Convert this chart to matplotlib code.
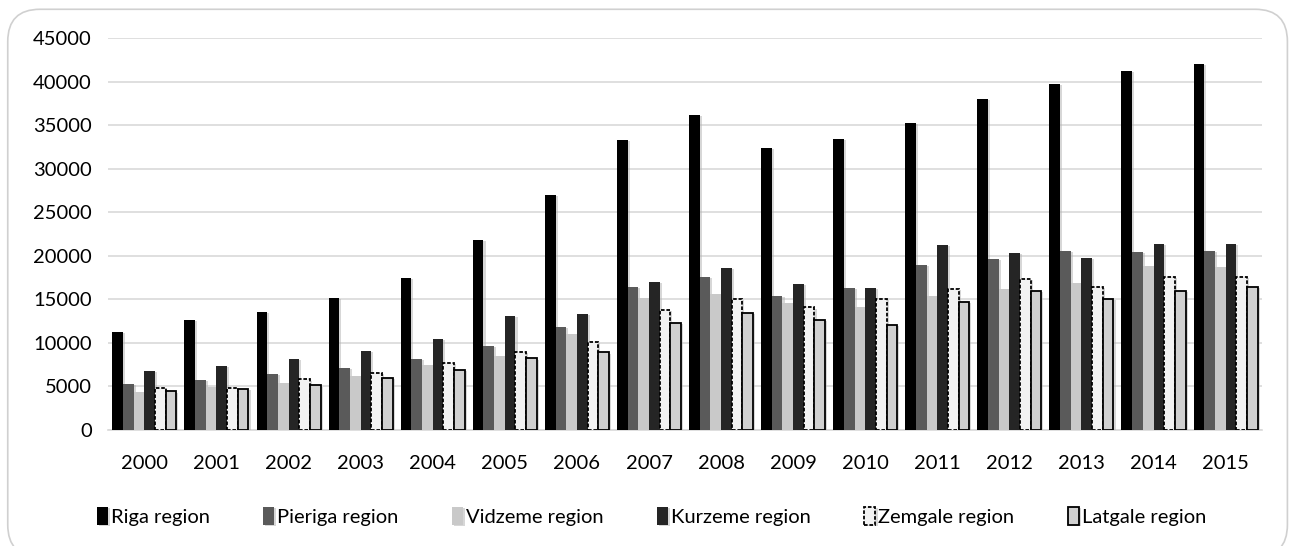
import numpy as np
import matplotlib.pyplot as plt
from matplotlib.patches import FancyBboxPatch
import matplotlib.patheffects as pe

years = [str(y) for y in range(2000, 2016)]

riga = [11250, 12630, 13550, 15150, 17450, 21810, 26980, 33290,
        36160, 32380, 33410, 35250, 38000, 39720, 41220, 42020]
pieriga = [5280, 5740, 6430, 7120, 8150, 9640, 11830, 16420,
           17570, 15380, 16300, 18940, 19630, 20550, 20440, 20550]
vidzeme = [4400, 4980, 5400, 6200, 7460, 8500, 11020, 15150,
           15610, 14580, 14120, 15380, 16190, 16880, 18830, 18750]
kurzeme = [6810, 7350, 8150, 9070, 10450, 13090, 13320, 16990,
           18600, 16760, 16300, 21240, 20320, 19750, 21350, 21350]
zemgale = [4780, 4860, 5820, 6580, 7690, 8990, 10140, 13780,
           15080, 14080, 15080, 16230, 17370, 16460, 17600, 17600]
latgale = [4440, 4710, 5130, 5970, 6890, 8230, 8920, 12280,
           13430, 12630, 12090, 14730, 15960, 15080, 16000, 16460]

series = [
    ("Riga region", riga, dict(color="#000000")),
    ("Pieriga region", pieriga, dict(color="#5a5a5a")),
    ("Vidzeme region", vidzeme, dict(color="#c9c9c9")),
    ("Kurzeme region", kurzeme, dict(color="#252525")),
    ("Zemgale region", zemgale, dict(facecolor="#f2f2f2", edgecolor="black",
                                     linestyle=(0, (2, 1)), linewidth=1.3)),
    ("Latgale region", latgale, dict(facecolor="#d0d0d0", edgecolor="black",
                                     linewidth=1.3)),
]

plt.rcParams['font.family'] = ['Lato', 'DejaVu Sans']

fig = plt.figure(figsize=(12.9, 5.46), dpi=100)
ax = fig.add_axes([0.084, 0.2125, 0.894, 0.718])

# rounded chart border
border = FancyBboxPatch((0.006, -0.02), 0.992, 1.003,
                        boxstyle="round,pad=0,rounding_size=0.025",
                        transform=fig.transFigure, facecolor="none",
                        edgecolor="#d0d0d0", linewidth=1.2,
                        mutation_aspect=1290 / 546)
fig.patches.append(border)

x = np.arange(len(years))
width = 0.148
shadow = [pe.SimplePatchShadow(offset=(1.5, -1), shadow_rgbFace="#b0b0b0",
                               alpha=0.5), pe.Normal()]
for i, (name, vals, style) in enumerate(series):
    bars = ax.bar(x + (i - 2.5) * width, vals, width, label=name, zorder=3,
                  **style)
    for b in bars:
        b.set_path_effects(shadow)

ax.set_ylim(0, 45000)
ax.set_yticks(range(0, 45001, 5000))
ax.set_xlim(-0.5, len(years) - 0.5)
ax.set_xticks(x)
ax.set_xticklabels(years)
ax.grid(axis="y", color="#d9d9d9", linewidth=1.2, zorder=0)
for s in ["top", "right", "left"]:
    ax.spines[s].set_visible(False)
ax.spines["bottom"].set_color("#d9d9d9")
ax.spines["bottom"].set_linewidth(1.2)
ax.tick_params(length=0, labelsize=14.5, colors="black")
ax.tick_params(axis="x", pad=18)
ax.tick_params(axis="y", pad=12)

ax.legend(loc="upper center", bbox_to_anchor=(0.471, -0.15), ncol=6,
          frameon=False, fontsize=14.5, handlelength=0.55, handleheight=1.0,
          handletextpad=0.15, columnspacing=2.65)

fig.savefig("out.png", dpi=100)
